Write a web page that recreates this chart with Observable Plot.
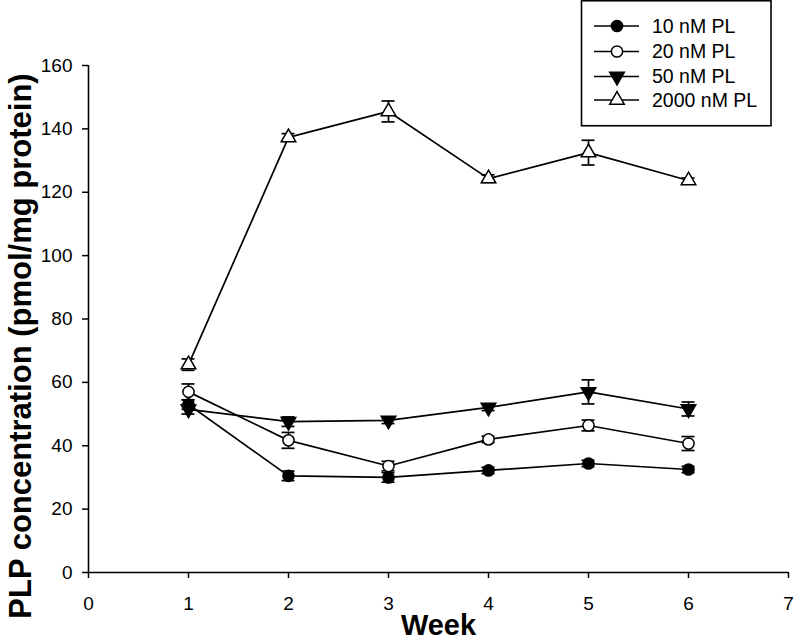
<!DOCTYPE html>
<html>
<head>
<meta charset="utf-8">
<script src="https://cdn.jsdelivr.net/npm/d3@7"></script>
<script src="https://cdn.jsdelivr.net/npm/@observablehq/plot@0.6"></script>
<style>
  html, body { margin: 0; padding: 0; background: white; }
  #wrap { position: relative; width: 794px; height: 641px; overflow: hidden; font-family: "Liberation Sans", Arial, sans-serif; }
  #legend { position: absolute; left: 0; top: 0; }
</style>
</head>
<body>
<div id="wrap"></div>
<script>
// ---- data ----
const weeks = [1, 2, 3, 4, 5, 6];
const seriesNames = ["10 nM PL", "20 nM PL", "50 nM PL", "2000 nM PL"];
const pl10 = [53, 30.5, 30, 32.2, 34.4, 32.5];
const pl10Err = [1.5, 1.5, 1.5, 1, 1, 1];
const pl20 = [57, 41.7, 33.6, 42, 46.4, 40.7];
const pl20Err = [2.5, 2.5, 1.5, 1, 1.7, 2.2];
const pl50 = [51.5, 47.6, 48, 52.1, 57, 51.6];
const pl50Err = [1.5, 1.5, 1, 1, 3.8, 2.2];
const pl2000 = [65.6, 137.3, 145.5, 124.3, 132.5, 123.7];
const pl2000Err = [1.8, 1.2, 3.3, 1.2, 3.9, 0.8];
const xTicks = [0, 1, 2, 3, 4, 5, 6, 7];
const yTicks = [0, 20, 40, 60, 80, 100, 120, 140, 160];
const xTitle = "Week";
const yTitle = "PLP concentration (pmol/mg protein)";

// marker styles per series
const styles = [
  {symbol: "circle", fill: "black", rotate: 0},
  {symbol: "circle", fill: "white", rotate: 0},
  {symbol: "triangle", fill: "black", rotate: 180},
  {symbol: "triangle", fill: "white", rotate: 0}
];
const values = [pl10, pl20, pl50, pl2000];
const errs = [pl10Err, pl20Err, pl50Err, pl2000Err];

const rows = [];
seriesNames.forEach((s, i) => {
  weeks.forEach((w, j) => rows.push({series: s, idx: i, week: w, value: values[i][j], err: errs[i][j]}));
});

const capHalf = 0.065; // half cap width in weeks

const marks = [
  Plot.ruleY([0], {stroke: "black", strokeWidth: 1.6}),
  Plot.ruleX([0], {stroke: "black", strokeWidth: 1.6}),
  Plot.axisX({ticks: xTicks, tickSize: 6, tickPadding: 18, tickFormat: d => String(d), label: null, fontSize: 19, strokeWidth: 1.5}),
  Plot.axisY({ticks: yTicks, tickSize: 6, tickPadding: 10, tickFormat: d => String(d), label: null, fontSize: 19, strokeWidth: 1.5}),
  Plot.text([yTitle], {frameAnchor: "left", textAnchor: "middle", lineAnchor: "middle", dx: -67, dy: 27, rotate: -90, fontSize: 31, fontWeight: "bold", fill: "black"}),
  Plot.text([xTitle], {frameAnchor: "bottom", textAnchor: "middle", lineAnchor: "middle", dy: 53, fontSize: 29, fontWeight: "bold", fill: "black"})
];

seriesNames.forEach((s, i) => {
  const d = rows.filter(r => r.idx === i);
  marks.push(Plot.line(d, {x: "week", y: "value", stroke: "black", strokeWidth: 1.7}));
  marks.push(Plot.ruleX(d, {x: "week", y1: r => r.value - r.err, y2: r => r.value + r.err, stroke: "black", strokeWidth: 1.7}));
  marks.push(Plot.ruleY(d, {y: r => r.value + r.err, x1: r => r.week - capHalf, x2: r => r.week + capHalf, stroke: "black", strokeWidth: 1.7}));
  marks.push(Plot.ruleY(d, {y: r => r.value - r.err, x1: r => r.week - capHalf, x2: r => r.week + capHalf, stroke: "black", strokeWidth: 1.7}));
});
seriesNames.forEach((s, i) => {
  const d = rows.filter(r => r.idx === i);
  const st = styles[i];
  marks.push(Plot.dot(d, {x: "week", y: "value", symbol: st.symbol, fill: st.fill, stroke: "black", strokeWidth: 1.5, r: st.symbol === "circle" ? 5.6 : 5.4, rotate: st.rotate}));
});

const chart = Plot.plot({
  width: 794,
  height: 641,
  marginLeft: 88,
  marginRight: 6,
  marginTop: 65,
  marginBottom: 69,
  x: {domain: [0, 7]},
  y: {domain: [0, 160]},
  style: {fontFamily: "'Liberation Sans', Arial, sans-serif", fontSize: "19px", color: "black", background: "white", overflow: "visible"},
  marks
});
document.getElementById("wrap").appendChild(chart);

// ---- legend ----
const lg = d3.select("#wrap").append("svg")
  .attr("id", "legend").attr("width", 794).attr("height", 140);
lg.append("rect").attr("x", 581.5).attr("y", 0.75).attr("width", 189.5).attr("height", 125)
  .attr("fill", "white").attr("stroke", "black").attr("stroke-width", 1.6);
const rowY = [26, 51.5, 76.5, 100];
seriesNames.forEach((s, i) => {
  const g = lg.append("g").attr("transform", `translate(0,${rowY[i]})`);
  g.append("line").attr("x1", 594).attr("x2", 639).attr("y1", 0).attr("y2", 0).attr("stroke", "black").attr("stroke-width", 1.7);
  const st = styles[i];
  const r = st.symbol === "circle" ? 5.6 : 5.4;
  const sym = d3.symbol(st.symbol === "circle" ? d3.symbolCircle : d3.symbolTriangle, Math.PI * r * r);
  g.append("path").attr("d", sym()).attr("transform", `translate(617,0) rotate(${st.rotate})`)
    .attr("fill", st.fill).attr("stroke", "black").attr("stroke-width", 1.5);
  g.append("text").attr("x", 652).attr("y", 0).attr("dy", "0.35em")
    .attr("font-family", "'Liberation Sans', Arial, sans-serif").attr("font-size", 19.5).attr("fill", "black").text(s);
});
</script>
</body>
</html>
